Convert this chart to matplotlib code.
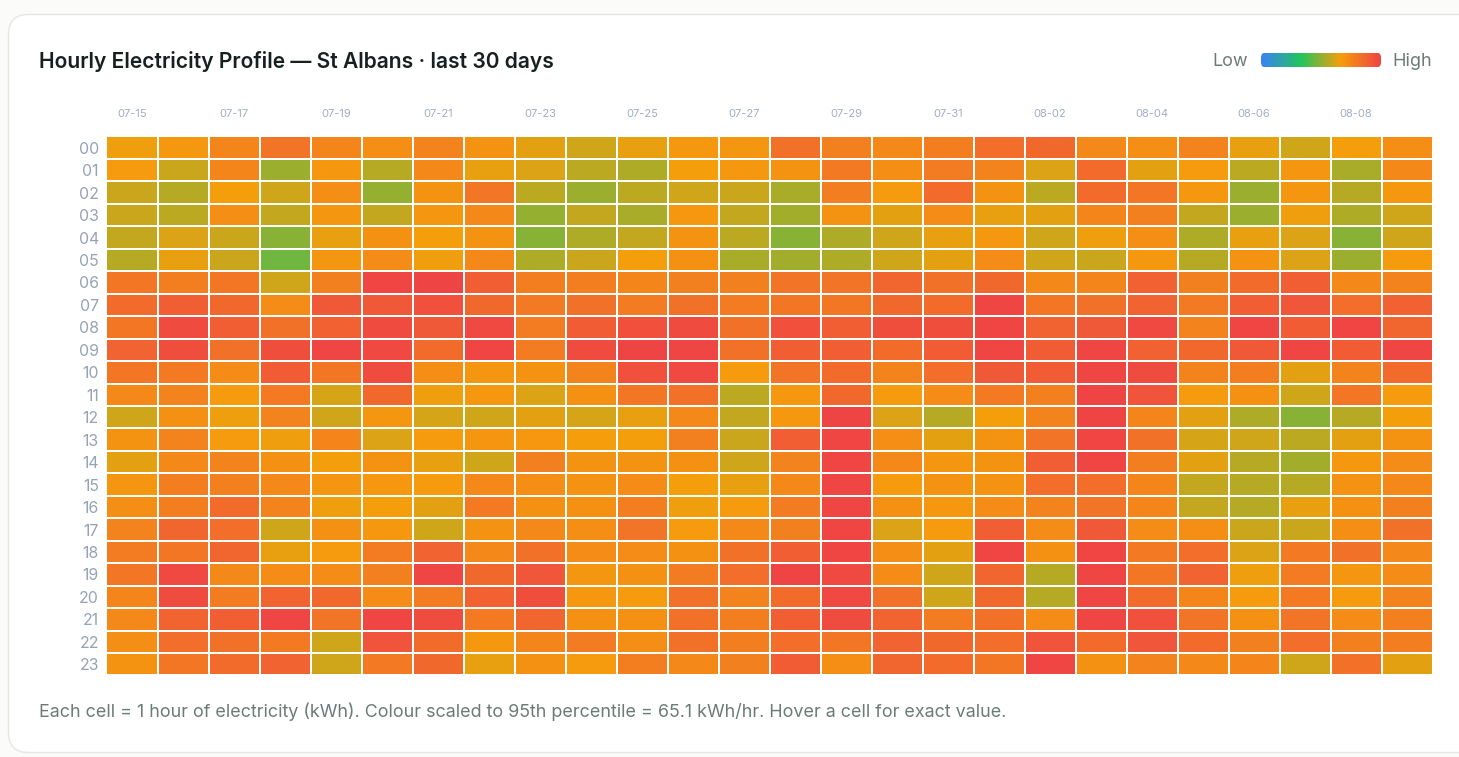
import matplotlib
matplotlib.use("Agg")
import matplotlib.pyplot as plt
import numpy as np
from matplotlib.colors import LinearSegmentedColormap, Normalize
from matplotlib.patches import FancyBboxPatch

W, H = 1459, 757
plt.rcParams['font.family'] = ['Inter', 'DejaVu Sans']

days = ["07-15","07-16","07-17","07-18","07-19","07-20","07-21","07-22","07-23","07-24","07-25","07-26","07-27",
        "07-28","07-29","07-30","07-31","08-01","08-02","08-03","08-04","08-05","08-06","08-07","08-08","08-09"]
hours = [f"{h:02d}" for h in range(24)]
p95_kwh = 65.1

# each cell as percent of the 95th percentile, one list per hour
h00 = [65,68,75,82,75,72,76,70,63,60,64,68,69,83,77,74,78,84,86,74,72,76,64,60,66,72]
h01 = [67,59,75,52,68,56,74,64,62,57,55,66,68,70,80,72,79,76,62,85,63,67,57,69,54,74]
h02 = [59,56,66,60,72,51,70,81,57,52,57,60,59,54,78,67,85,70,57,85,81,68,52,69,56,68]
h03 = [59,57,72,58,69,58,69,74,51,58,54,68,58,53,70,63,73,64,63,75,77,58,52,65,55,60]
h04 = [58,62,59,49,64,71,66,70,49,55,58,70,57,49,55,60,64,68,60,65,72,55,64,62,49,60]
h05 = [56,64,59,45,69,73,65,74,55,59,66,71,54,53,55,60,63,73,60,59,68,56,70,62,52,67]
h06 = [81,78,81,60,77,99,100,90,78,78,75,77,77,82,82,87,83,86,74,75,89,77,85,90,74,76]
h07 = [85,90,86,73,92,92,95,86,80,83,79,83,79,81,81,86,85,99,81,83,88,80,90,93,84,89]
h08 = [81,97,90,83,89,97,92,98,79,91,95,97,83,95,90,96,96,99,88,92,98,76,99,91,99,87]
h09 = [88,96,83,96,99,98,85,99,79,97,100,99,83,90,90,85,91,99,91,99,89,86,92,99,91,99]
h10 = [81,80,73,91,81,97,72,69,70,76,95,98,67,82,85,76,84,92,91,99,97,76,78,63,76,85]
h11 = [74,76,67,80,61,86,65,68,62,71,81,83,57,68,86,67,73,80,77,100,94,67,71,60,81,67]
h12 = [60,71,65,76,60,69,61,60,63,61,64,74,58,68,100,62,56,66,76,100,75,63,55,49,56,66]
h13 = [70,76,67,65,75,62,67,69,68,66,66,77,59,90,99,72,63,70,82,99,83,61,60,57,63,70]
h14 = [63,74,76,71,66,70,64,60,77,70,70,71,60,76,99,74,69,70,90,99,78,63,56,53,68,73]
h15 = [69,78,77,74,69,68,67,74,72,70,73,66,64,74,99,67,70,70,84,84,75,58,56,56,70,74]
h16 = [72,78,85,76,65,66,63,80,71,71,78,65,67,79,99,71,68,73,76,82,75,58,56,64,71,77]
h17 = [76,87,84,60,71,68,60,70,74,72,82,67,74,77,99,62,67,90,73,92,73,72,59,59,72,83]
h18 = [79,81,87,64,67,79,88,74,83,73,73,71,83,90,99,72,63,99,71,99,80,84,62,80,83,74]
h19 = [81,98,74,73,73,77,99,86,93,69,71,79,84,100,98,73,60,87,56,99,81,88,65,79,69,73]
h20 = [75,97,79,88,86,73,79,89,96,68,67,83,76,85,98,83,60,86,56,99,85,75,67,80,67,76]
h21 = [74,88,90,99,82,99,97,80,87,71,71,83,78,90,97,88,79,83,73,99,95,82,71,82,73,77]
h22 = [72,84,83,80,60,94,85,68,75,79,72,83,78,84,81,88,86,84,94,85,93,85,77,84,77,78]
h23 = [70,81,85,88,60,80,86,64,71,67,78,74,77,91,72,87,85,81,99,71,76,74,75,60,83,63]
rows = [h00,h01,h02,h03,h04,h05,h06,h07,h08,h09,h10,h11,h12,h13,h14,h15,h16,h17,h18,h19,h20,h21,h22,h23]
kwh = np.array(rows, dtype=float) * p95_kwh / 100

cmap = LinearSegmentedColormap.from_list(
    "heat", [(0, "#3b82f6"), (0.33, "#22c55e"), (0.66, "#f59e0b"), (1, "#ef4444")])
norm = Normalize(0, p95_kwh)

def px_axes(fig, x0, y0, x1, y1, **kw):
    return fig.add_axes([x0 / W, 1 - y1 / H, (x1 - x0) / W, (y1 - y0) / H], **kw)

fig = plt.figure(figsize=(W / 100, H / 100), dpi=100, facecolor="#fbfbf9")

# page layer in pixel coordinates
bg = fig.add_axes([0, 0, 1, 1], zorder=0)
bg.set_xlim(0, W); bg.set_ylim(H, 0); bg.axis("off")
bg.add_patch(FancyBboxPatch((8.5, 14.5), 1470, 738, boxstyle="round,pad=0,rounding_size=20",
                            fc="white", ec="#e3e8e6", lw=1.0, clip_on=True))
bg.text(39, 61.5, "Hourly Electricity Profile — St Albans · last 30 days", fontsize=15.13,
        fontweight=600, color="#16201f", va="center", ha="left")
bg.text(39, 712, "Each cell = 1 hour of electricity (kWh). Colour scaled to 95th percentile = 65.1 kWh/hr. "
        "Hover a cell for exact value.", fontsize=12.92, color="#6b7c78", va="center", ha="left")
bg.text(1248.5, 61.5, "Low", fontsize=13, color="#6b7c78", va="center", ha="right")
bg.text(1392.5, 61.5, "High", fontsize=13, color="#6b7c78", va="center", ha="left")

# heat map
ax = px_axes(fig, 106.5, 136.5, 1432.5, 675.5, zorder=1)
x_edges = np.arange(len(days) + 1)
y_edges = np.arange(len(hours) + 1)
ax.pcolormesh(x_edges, y_edges, kwh, cmap=cmap, norm=norm, edgecolors="white", linewidth=1.1)
ax.set_xlim(0, len(days)); ax.set_ylim(len(hours), 0)
for s in ax.spines.values():
    s.set_visible(False)
ax.xaxis.tick_top()
ax.set_xticks(np.arange(0, len(days), 2) + 0.5)
ax.set_xticklabels(days[::2], fontsize=8, color="#a0aec0")
ax.set_yticks(np.arange(len(hours)) + 0.5)
ax.set_yticklabels(hours, fontsize=11.4, color="#94a3b8")
ax.tick_params(axis="x", length=0, pad=12.5)
ax.tick_params(axis="y", length=0, pad=5.5)

# gradient legend
lg = px_axes(fig, 1261, 52.5, 1381, 67.5, zorder=1)
grad = np.linspace(0, p95_kwh, 240)[None, :]
im = lg.imshow(grad, cmap=cmap, norm=norm, aspect="auto", extent=(0, 120, 15, 0))
clip = FancyBboxPatch((0, 0), 120, 15, boxstyle="round,pad=0,rounding_size=5",
                      fc="none", ec="none", transform=lg.transData)
lg.add_patch(clip)
im.set_clip_path(clip)
lg.axis("off")

fig.savefig("out.png", dpi=100, facecolor=fig.get_facecolor())
